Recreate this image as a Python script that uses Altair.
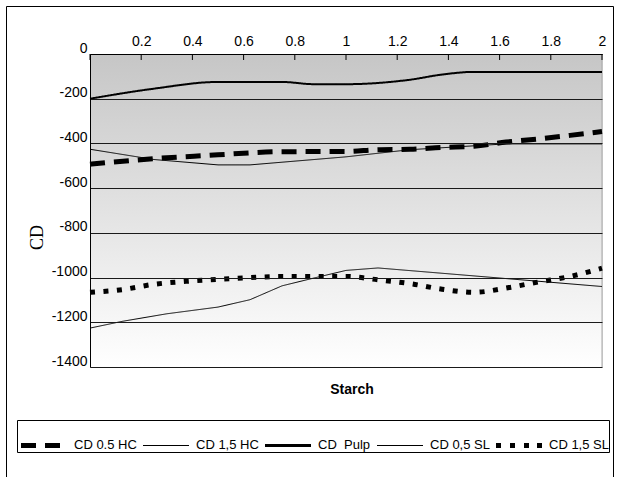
import altair as alt
import pandas as pd

# ---------------- data ----------------
series_names = ["CD 0.5 HC", "CD 1,5 HC", "CD\u00a0 Pulp", "CD 0,5 SL", "CD 1,5 SL"]

hc05_x = [0, 0.25, 0.5, 0.625, 0.75, 1, 1.125, 1.25, 1.375, 1.5, 1.625, 1.75, 1.875, 2]
hc05_y = [-493, -468, -451, -442, -437, -436, -428, -426, -418, -413, -394, -380, -364, -347]

hc15_x = [0, 0.25, 0.5, 0.625, 1, 1.25, 1.625, 2]
hc15_y = [-426, -472, -496, -496, -460, -428, -402, -402]

pulp_x = [0, 0.25, 0.5, 0.75, 0.875, 1, 1.25, 1.375, 1.5, 1.75, 2]
pulp_y = [-200, -155, -125, -125, -135, -135, -115, -92, -80, -80, -80]

sl05_x = [0, 0.125, 0.3, 0.5, 0.625, 0.75, 0.875, 1, 1.125, 2]
sl05_y = [-1226, -1196, -1162, -1132, -1099, -1037, -1002, -968, -957, -1040]

sl15_x = [0, 0.125, 0.25, 0.375, 0.5, 0.625, 0.75, 1, 1.125, 1.25, 1.375, 1.5, 1.625, 1.75, 1.875, 2]
sl15_y = [-1066, -1054, -1030, -1017, -1008, -1000, -995, -995, -1010, -1027, -1052, -1066, -1047, -1020, -995, -958]

x_tick_values = [0, 0.2, 0.4, 0.6, 0.8, 1, 1.2, 1.4, 1.6, 1.8, 2]
y_tick_values = [-1400, -1200, -1000, -800, -600, -400, -200, 0]

all_x = [hc05_x, hc15_x, pulp_x, sl05_x, sl15_x]
all_y = [hc05_y, hc15_y, pulp_y, sl05_y, sl15_y]

rows = []
for name, xs, ys in zip(series_names, all_x, all_y):
    for xv, yv in zip(xs, ys):
        rows.append({"series": name, "starch": xv, "cd": yv})
df = pd.DataFrame(rows)

# ---------------- layout ----------------
W, H = 512, 313
FONT = "Liberation Sans"

x_scale = alt.Scale(domain=[0, 2], nice=False, zero=False)
y_scale = alt.Scale(domain=[-1400, 0], nice=False, zero=False)

x_axis = alt.Axis(
    orient="top", values=x_tick_values, title=None, grid=False,
    ticks=False, tickSize=0, domain=True, domainColor="black", domainWidth=1,
    labelExpr="datum.value == 0 ? '' : '' + datum.value",
    labelFont=FONT, labelFontSize=14, labelColor="black",
    labelPadding=9, labelBaseline="alphabetic", labelFlush=False, labelOverlap=False,
    zindex=1,
)
y_axis = alt.Axis(
    values=y_tick_values, grid=True, gridColor="#1a1a1a", gridWidth=1,
    ticks=False, tickSize=0, domain=True, domainColor="black", domainWidth=1,
    labelExpr="'' + datum.value",
    labelFont=FONT, labelFontSize=14, labelColor="black",
    labelPadding=3, labelBaseline="alphabetic", labelOffset=-2, labelOverlap=False,
    title="CD", titleFont="Liberation Serif", titleFontSize=18, titleFontWeight="normal",
    titleColor="black", titleX=-53, titleY=183, titleAlign="center", titleBaseline="middle",
    titleAngle=270, zindex=1,
)

# line styles (plot)
dashes = [[15, 9], [1, 0], [1, 0], [1, 0], [5, 8.5]]
widths = [5, 1, 2, 1, 5]
interps = ["monotone", "linear", "monotone", "linear", "monotone"]

# legend key glyphs (unit box -1..1, 25 px per unit)
key_shapes = [
    "M-0.84,-0.08H-0.24V0.12H-0.84Z M0.12,-0.08H0.72V0.12H0.12Z",
    "M-0.84,0H1V0.04H-0.84Z",
    "M-0.84,-0.04H1V0.08H-0.84Z",
    "M-0.84,0H1V0.04H-0.84Z",
    "M-0.84,-0.08H-0.64V0.12H-0.84Z M-0.28,-0.08H-0.08V0.12H-0.28Z "
    "M0.28,-0.08H0.48V0.12H0.28Z M0.8,-0.08H1V0.12H0.8Z",
]
legend = alt.Legend(
    title=None, orient="none", legendX=-73, legendY=366,
    direction="horizontal", columns=5,
    symbolSize=2500, symbolFillColor="black", symbolStrokeWidth=0, symbolOpacity=1,
    labelFont=FONT, labelFontSize=13, labelColor="black", labelOffset=7,
    columnPadding=2, padding=0, strokeColor="black", fillColor="white",
)

base = alt.Chart(df).encode(
    x=alt.X("starch:Q", scale=x_scale, axis=x_axis),
    y=alt.Y("cd:Q", scale=y_scale, axis=y_axis),
)

line_layers = [
    base.transform_filter(alt.datum.series == name).mark_line(
        color="black", strokeWidth=w, strokeDash=d, interpolate=ip, strokeCap="butt"
    )
    for name, w, d, ip in zip(series_names, widths, dashes, interps)
]

# legend carrier: shape scale over the same series, no points drawn
legend_layer = base.transform_filter("false").mark_point(
    filled=True, color="black", size=2500, opacity=1
).encode(
    shape=alt.Shape("series:N", scale=alt.Scale(domain=series_names, range=key_shapes), legend=legend),
)

one = pd.DataFrame({"k": [0]})

background = alt.Chart(one).mark_rect(
    fill=alt.Gradient(
        gradient="linear",
        stops=[alt.GradientStop(color="#c6c6c6", offset=0),
               alt.GradientStop(color="#ffffff", offset=1)],
        x1=0, x2=0, y1=0, y2=1,
    )
).encode(x=alt.value(0), x2=alt.value(W), y=alt.value(0), y2=alt.value(H))

right_edge = alt.Chart(one).mark_rule(color="#a8a8a8", strokeWidth=1).encode(
    x=alt.value(W), y=alt.value(0), y2=alt.value(H)
)

ticks = alt.Chart(pd.DataFrame({"starch": x_tick_values})).mark_rule(
    color="black", strokeWidth=1
).encode(
    x=alt.X("starch:Q", scale=x_scale, axis=x_axis),
    y=alt.value(0), y2=alt.value(6),
)

frame = alt.Chart(one).mark_rect(
    fillOpacity=0, stroke="black", strokeWidth=1
).encode(x=alt.value(-83.5), x2=alt.value(523.5), y=alt.value(-47.5), y2=alt.value(440))

x_title = alt.Chart(one).mark_text(
    text="Starch", font=FONT, fontSize=14, fontWeight="bold", color="black",
    align="center", baseline="middle",
).encode(x=alt.value(262), y=alt.value(336))

chart = alt.layer(
    background, right_edge, *line_layers, legend_layer, ticks, frame, x_title
).properties(
    width=W, height=H,
    autosize=alt.AutoSizeParams(type="none"),
    padding={"left": 90, "top": 54, "right": 17, "bottom": 110},
    background="white",
).configure_view(stroke=None, fill=None).configure(font=FONT)

chart.save("out.html", embed_options={"renderer": "svg", "actions": False})
